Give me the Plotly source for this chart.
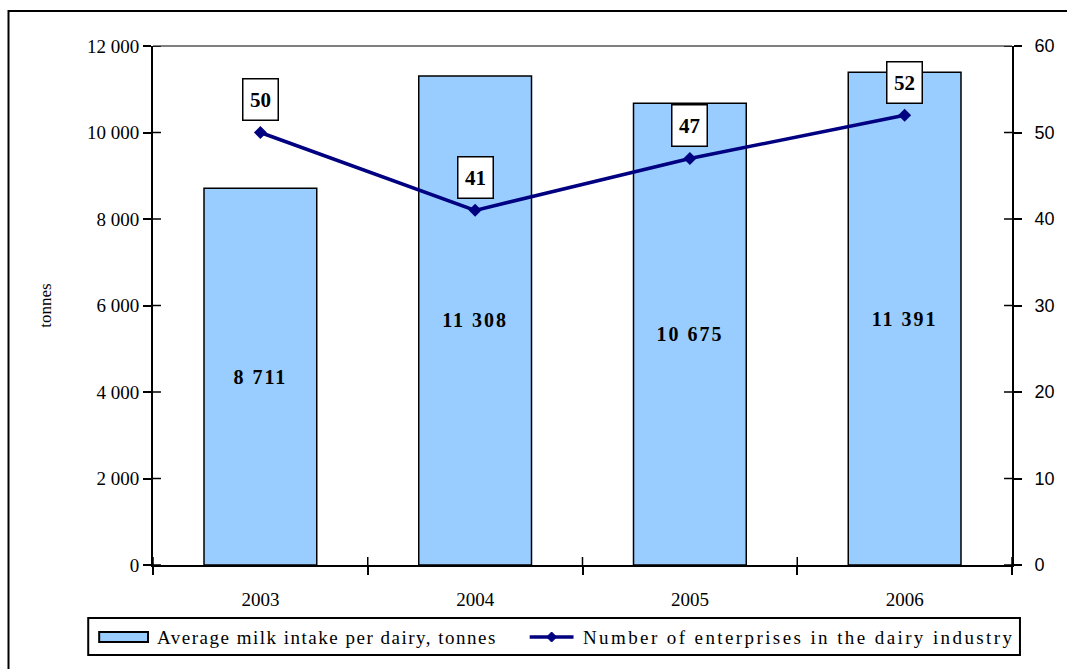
import plotly.graph_objects as go

# Dairy industry: average milk intake per dairy and number of enterprises
years = ["2003", "2004", "2005", "2006"]
milk_intake = [8711, 11308, 10675, 11391]
enterprises = [50, 41, 47, 52]

bar_name = "Average milk intake per dairy, tonnes"
line_name = "Number of enterprises in the dairy industry"

serif = "Liberation Serif"
sans = "Liberation Sans"
bar_color = "#99CCFF"
line_color = "#000080"

W, H = 1067, 669
L, R, T, B = 153, 52, 46, 104
PW, PH = W - L - R, H - T - B
TICK = 8


def px_x(px):
    return (px - L) / PW


def px_y(py):
    return (H - B - py) / PH


def spaced(text, sp):
    return f'<span style="letter-spacing:{sp}px">{text}</span>'


fig = go.Figure()

fig.add_trace(go.Bar(
    x=years, y=milk_intake, name=bar_name,
    marker=dict(color=bar_color, line=dict(color="black", width=1.5)),
    width=0.525,
    text=[spaced(f"<b>{v:,}</b>".replace(",", " "), 2) for v in milk_intake],
    textposition="inside",
    insidetextanchor="middle",
    textfont=dict(family=serif, size=20, color="black"),
    hoverinfo="skip", showlegend=False,
))

fig.add_trace(go.Scatter(
    x=years, y=enterprises, yaxis="y2", name=line_name,
    mode="lines+markers",
    line=dict(color=line_color, width=3.5),
    marker=dict(symbol="diamond", size=10, color=line_color),
    hoverinfo="skip", showlegend=False,
))

# boxed value labels above the line points
for i, val in enumerate(enterprises):
    fig.add_annotation(
        x=i, y=val, xref="x", yref="y2", yshift=33,
        text=f"<b>{val}</b>", showarrow=False,
        font=dict(family=serif, size=21, color="black"),
        bgcolor="white", bordercolor="black", borderwidth=1.5,
        width=32, height=38, borderpad=1,
    )

left_ticks = list(range(0, 12001, 2000))
right_ticks = list(range(0, 61, 10))
tick_common = dict(ticks="outside", ticklen=TICK, tickwidth=1.5, tickcolor="black",
                   showgrid=False, zeroline=False,
                   showline=True, linecolor="black", linewidth=2)

fig.update_layout(
    width=W, height=H,
    margin=dict(l=L, r=R, t=T, b=B),
    paper_bgcolor="white", plot_bgcolor="white",
    separators=". ",
    font=dict(family=serif, size=19, color="black"),
    showlegend=False,
    xaxis=dict(
        type="category", range=[-0.5, 3.5],
        tickson="boundaries", ticklabelstandoff=16,
        tickfont=dict(family=serif, size=19), **tick_common,
    ),
    yaxis=dict(
        range=[0, 12000], tickvals=left_ticks, tickformat=",",
        tickfont=dict(family=serif, size=19),
        title=dict(text="tonnes", font=dict(family=serif, size=17), standoff=31),
        **tick_common,
    ),
    yaxis2=dict(
        overlaying="y", side="right", range=[0, 60], tickvals=right_ticks,
        tickfont=dict(family=sans, size=18), ticklabelstandoff=9,
        **tick_common,
    ),
)

# inner halves of the crossing tick marks
tick_line = dict(color="black", width=1.5)
for v in left_ticks:
    fig.add_shape(type="line", xref="paper", yref="y",
                  x0=0, x1=TICK / PW, y0=v, y1=v, line=tick_line)
for v in right_ticks:
    fig.add_shape(type="line", xref="paper", yref="y2",
                  x0=1 - TICK / PW, x1=1, y0=v, y1=v, line=tick_line)
for k in range(len(years) + 1):
    fig.add_shape(type="line", xref="x", yref="paper",
                  x0=k - 0.5, x1=k - 0.5, y0=0, y1=TICK / PH, line=tick_line)

# gray top edge of the plotting area
fig.add_shape(type="line", xref="paper", yref="paper", x0=0, x1=1, y0=1, y1=1,
              line=dict(color="#808080", width=2), layer="below")

# outer frame around the chart
fig.add_shape(type="rect", xref="paper", yref="paper",
              x0=px_x(8), x1=px_x(1075), y0=px_y(680), y1=px_y(11),
              line=dict(color="black", width=2), layer="below")

# legend: frame, bar swatch, line sample with diamond, labels
fig.add_shape(type="rect", xref="paper", yref="paper",
              x0=px_x(88), x1=px_x(1023), y0=px_y(655), y1=px_y(618),
              line=dict(color="black", width=2), fillcolor="white")
fig.add_shape(type="rect", xref="paper", yref="paper",
              x0=px_x(99), x1=px_x(148), y0=px_y(642), y1=px_y(632),
              line=dict(color="black", width=2), fillcolor=bar_color)
fig.add_shape(type="line", xref="paper", yref="paper",
              x0=px_x(531), x1=px_x(575), y0=px_y(637), y1=px_y(637),
              line=dict(color=line_color, width=3.5))
fig.add_shape(type="path", xref="paper", yref="paper",
              xsizemode="pixel", ysizemode="pixel",
              xanchor=px_x(553), yanchor=px_y(637),
              path="M-5,0 L0,5 L5,0 L0,-5 Z",
              line=dict(color=line_color, width=1), fillcolor=line_color)
fig.add_annotation(x=px_x(155), y=px_y(637), xref="paper", yref="paper",
                   xanchor="left", yanchor="middle", showarrow=False,
                   text=spaced(bar_name, 1.5), font=dict(family=serif, size=19))
fig.add_annotation(x=px_x(582), y=px_y(637), xref="paper", yref="paper",
                   xanchor="left", yanchor="middle", showarrow=False,
                   text=spaced(line_name, 2.4), font=dict(family=serif, size=19))

fig.write_html("out.html")
